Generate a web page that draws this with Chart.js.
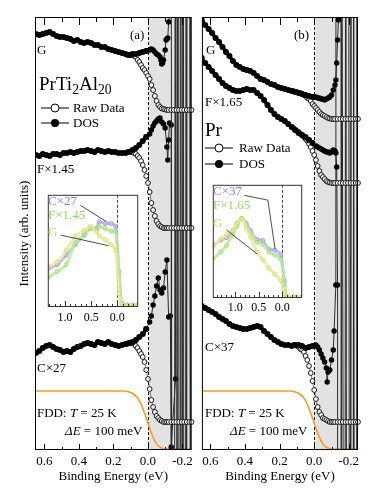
<!DOCTYPE html>
<html><head><meta charset="utf-8">
<script src="https://cdn.jsdelivr.net/npm/chart.js@4.4.1/dist/chart.umd.min.js"></script>
<style>
html,body{margin:0;padding:0;background:#fff;}
#fig{position:relative;width:374px;height:498px;overflow:hidden;font-family:'Liberation Serif','Times New Roman',serif;color:#000;}
canvas{position:absolute;}
.t{position:absolute;white-space:nowrap;line-height:1.2;font-size:13px;}
.big{font-size:19px;}
.big sub{font-size:0.72em;vertical-align:-0.28em;line-height:0;}
.lg{position:absolute;}
</style></head><body>
<div id="fig">
<canvas id="cA" width="197" height="498" style="left:0;top:0;width:197px;height:498px"></canvas>
<canvas id="cB" width="177" height="498" style="left:197px;top:0;width:177px;height:498px"></canvas>
<canvas id="iA" width="100" height="139" style="left:43px;top:190px;width:100px;height:139px"></canvas>
<canvas id="iB" width="99" height="140" style="left:208px;top:180px;width:99px;height:140px"></canvas>

<div class="t" style="left:130px;top:27px">(a)</div>
<div class="t" style="left:37px;top:42px">G</div>
<div class="t big" style="left:39px;top:73px">PrTi<sub>2</sub>Al<sub>20</sub></div>
<svg class="lg" style="left:41px;top:102px" width="28" height="12"><line x1="0" y1="6" x2="28" y2="6" stroke="#000" stroke-width="1"/><circle cx="14" cy="6" r="4" fill="#fff" stroke="#000" stroke-width="1"/></svg>
<div class="t" style="left:73px;top:100px">Raw Data</div>
<svg class="lg" style="left:41px;top:117px" width="28" height="12"><line x1="0" y1="6" x2="28" y2="6" stroke="#000" stroke-width="1"/><circle cx="14" cy="6" r="4" fill="#000"/></svg>
<div class="t" style="left:73px;top:115px">DOS</div>
<div class="t" style="left:37px;top:161px">F×1.45</div>
<div class="t" style="left:37px;top:360px">C×27</div>
<div class="t" style="left:37px;top:405px">FDD: <i>T</i> = 25 K</div>
<div class="t" style="left:65px;top:423px"><i>ΔE</i> = 100 meV</div>

<div class="t" style="left:294px;top:27px">(b)</div>
<div class="t" style="left:206px;top:42px">G</div>
<div class="t" style="left:205px;top:94px">F×1.65</div>
<div class="t big" style="left:205px;top:119px">Pr</div>
<svg class="lg" style="left:205px;top:142px" width="28" height="12"><line x1="0" y1="6" x2="28" y2="6" stroke="#000" stroke-width="1"/><circle cx="14" cy="6" r="4" fill="#fff" stroke="#000" stroke-width="1"/></svg>
<div class="t" style="left:239px;top:140px">Raw Data</div>
<svg class="lg" style="left:205px;top:158px" width="28" height="12"><line x1="0" y1="6" x2="28" y2="6" stroke="#000" stroke-width="1"/><circle cx="14" cy="6" r="4" fill="#000"/></svg>
<div class="t" style="left:239px;top:156px">DOS</div>
<div class="t" style="left:205px;top:339px">C×37</div>
<div class="t" style="left:205px;top:405px">FDD: <i>T</i> = 25 K</div>
<div class="t" style="left:230px;top:423px"><i>ΔE</i> = 100 meV</div>

<div class="t" style="left:48px;top:193px;color:#8a7cf0">C×27</div>
<div class="t" style="left:48px;top:207px;color:#8cdc55">F×1.45</div>
<div class="t" style="left:48px;top:224px;color:#d4d44a">G</div>
<div class="t" style="left:213px;top:183px;color:#8a7cf0">C×37</div>
<div class="t" style="left:213px;top:197px;color:#8cdc55">F×1.65</div>
<div class="t" style="left:213px;top:215px;color:#d4d44a">G</div>
</div>
<script>
// ---------- data (binding energy in eV, intensity in arb. units) ----------
const xTickValues = [0.6, 0.4, 0.2, 0.0, -0.2];
const xMinorTicks = [0.6, 0.5, 0.4, 0.3, 0.2, 0.1, 0.0, -0.1, -0.2];
const insetTickValues = [1.0, 0.5, 0.0];
const insetMinorA = [1.3,1.2,1.1,1.0,0.9,0.8,0.7,0.6,0.5,0.4,0.3,0.2,0.1,0.0,-0.1,-0.2,-0.3];
const insetMinorB = [1.4,1.3,1.2,1.1,1.0,0.9,0.8,0.7,0.6,0.5,0.4,0.3,0.2,0.1,0.0,-0.1,-0.2,-0.3,-0.4];

const energyGrid = [0.65,0.63,0.61,0.59,0.57,0.55,0.53,0.51,0.49,0.47,0.45,0.43,0.41,0.39,0.37,0.35,0.33,0.31,0.29,0.27,0.25,0.23,0.21,0.19,0.17,0.15,0.13,0.11,0.09,0.07,0.05,0.03,0.01];
const rawEnergy = [0.12,0.11,0.10,0.09,0.08,0.07,0.06,0.05,0.04,0.03,0.02,0.01,0.0,-0.01,-0.02,-0.03,-0.04,-0.05,-0.06,-0.07,-0.08,-0.09,-0.10,-0.11,-0.12,-0.135,-0.15,-0.165,-0.18,-0.195,-0.21,-0.225,-0.24,-0.253];

// Panel (a) PrTi2Al20
const dosA_G = [416,415,416,417,418,416,414,413,413,412,411,409,410,408,407,408,407,405,405,403,403,401,400,399,398,397,396,395,396,396,397,398,399];
const dosA_F = [295,294,296,295,294,296,296,295,297,297,298,297,298,299,299,300,299,298,300,299,298,299,298,298,297,297,297,298,300,302,305,309,313];
const dosA_C = [97,99,102,104,105,103,101,100,98,99,98,101,103,104,106,107,106,105,108,107,106,108,106,105,104,105,106,107,108,110,113,116,121];
const tailA_G_E = [0.01,-0.01,-0.02,-0.03,-0.04,-0.05,-0.06,-0.07,-0.075,-0.08,-0.085,-0.09,-0.10,-0.105,-0.11,-0.115,-0.12,-0.122,-0.154,-0.18,-0.204,-0.234,-0.26];
const tailA_G = [399,400,401,400,398,396,395,393,390,386,387,390,400,410,411,412,428,3000,-3000,3000,-3000,3000,-3000];
const tailA_F_E = [0.01,-0.01,-0.02,-0.03,-0.04,-0.05,-0.06,-0.07,-0.08,-0.09,-0.10,-0.11,-0.115,-0.12,-0.125,-0.135,-0.14,-0.17,-0.19,-0.21,-0.238,-0.26];
const tailA_F = [313,316,320,324,327,329,331,332,328,326,322,303,290,310,327,325,-3000,3000,-3000,3000,-3000,3000];
const tailA_C_E = [0.01,-0.01,-0.02,-0.03,-0.04,-0.05,-0.06,-0.07,-0.08,-0.09,-0.10,-0.11,-0.12,-0.13,-0.135,-0.16,-0.165,-0.18,-0.2,-0.215,-0.235,-0.255];
const tailA_C = [121,128,134,145,154,164,172,160,157,162,178,190,133,134,3,71,3000,-3000,3000,-3000,3000,-3000];
const rawA_G = [395,395,395,395,394,393,390,388,385,382,380,377,374,371,365,360,354,349,345,343,341.5,341,340.5,340,340,340,340,340,340,340,340,340,340,340];
const rawA_F = [298,298,298,298,297,296,294,292,289,285,280,274,267,258,247,240,234,229,226,224,223,222,222,222,222,222,222,222,222,222,222,222,222,222];
const rawA_C = [106,107,107,107,106,104,102,99,96,93,88,80,71,61,50,43,38,34,32,30,29,28,28,28,28,28,28,28,28,28,28,28,28,28];

// Panel (b) Pr
const dosB_G = [430,425,421,417,412,408,403,398,394,389,385,383,381,380,379,377,374,371,370,368,366,365,363,362,361,360,359,358,357,356,355,354,353];
const dosB_F = [392,387,383,379,375,371,367,364,362,360,359,359,360,361,360,360,357,354,350,345,340,336,333,331,329,326,323,320,317,315,313,310,307];
const dosB_C = [144,142,140,138,136,133,131,129,126,124,123,122,121,121,122,123,124,123,119,116,113,110,108,106,105,105,104,105,105,104,102,103,104];
const tailB_G_E = [0.01,-0.01,-0.02,-0.03,-0.04,-0.05,-0.06,-0.07,-0.08,-0.09,-0.10,-0.11,-0.12,-0.125,-0.13,-0.135,-0.14,-0.145,-0.168,-0.19,-0.214,-0.238,-0.26];
const tailB_G = [353,353,352,352,351,351,350,351,352,353,355,360,365,370,387,410,430,3000,-3000,3000,-3000,3000,-3000];
const tailB_F_E = [0.01,-0.01,-0.02,-0.03,-0.04,-0.05,-0.06,-0.07,-0.08,-0.09,-0.10,-0.11,-0.12,-0.125,-0.13,-0.135,-0.14,-0.172,-0.2,-0.22,-0.24,-0.26];
const tailB_F = [307,304,303,302,301,300,299,298,298,297,298,300,299,297,283,165,-3000,3000,-3000,3000,-3000,3000];
const tailB_C_E = [0.01,-0.01,-0.02,-0.03,-0.04,-0.05,-0.06,-0.07,-0.075,-0.08,-0.09,-0.10,-0.11,-0.115,-0.125,-0.13,-0.204,-0.22,-0.236,-0.256];
const tailB_C = [104,105,103,100,96,92,88,82,68,78,80,90,100,119,165,3000,-3000,3000,-3000,3000];
const rawB_G = [359,358,358,357,357,356,355,354,352,351,349,346,344,342,340,338,336,335,334,333,332,331.5,331,331,331,331,331,331,331,331,331,331,331,331];
const rawB_F = [322,320,319,318,316,315,313,311,309,306,303,299,295,290,284,279,275,273,271,269,268,267.5,267,267,267,267,267,267,267,267,267,267,267,267];
const rawB_C = [105,105,104,103,101,100,98,94,90,84,77,69,60,51,43,38,35,32,31,30,29,28,28,28,28,28,28,28,28,28,28,28,28,28];

// Fermi-Dirac distribution (T = 25 K, ΔE = 100 meV), same scale in both panels
const fddEnergy = [0.66,0.14,0.12,0.10,0.08,0.06,0.04,0.02,0.0,-0.02,-0.04,-0.06,-0.08,-0.10,-0.12,-0.26];
const fddLevel = [59,59,58.5,57.5,55.5,52,46,37,27,17,9,4,2,1,1,1];

// Insets (raw spectra, normalized)
const insetA_E = [1.32,1.15,0.98,0.805,0.633,0.517,0.40,0.345,0.23,0.115,0.03,-0.03,-0.086,-0.2,-0.3,-0.4];
const insetA_G = [42,47,59,74,80,84,79,74,70,65,59,14,1,1,1,1];
const insetA_F = [31,37,44,67,75,82,80,84,82,79,79,37,4,2,2,2];
const insetA_C = [40,44,54,65,75,82,82,89,87,87,84,37,4,2,2,2];
const insetB_E = [1.475,1.313,1.187,1.058,0.962,0.865,0.769,0.673,0.544,0.417,0.288,0.16,0.033,-0.044,-0.096,-0.25,-0.42];
const insetB_G = [53,61,66,71,78,83,73,63,48,40,31,25,18,5,0,1,1];
const insetB_F = [41,48,55,66,75,83,76,68,58,56,48,45,40,15,1,1,1];
const insetB_C = [55,60,63,70,78,83,78,70,61,60,51,50,45,18,1,1,1];
const leaderA_C_E = [0.707,0.207], leaderA_C = [106,89];
const leaderA_G_E = [1.086,0.172], leaderA_G = [75,64];
const leaderB_C_E = [0.808,0.308,0.154], leaderB_C = [107,102,51];
const leaderB_G_E = [1.19,0.538], leaderB_G = [71,46];

// ---------- drawing ----------
const FONT = "'Liberation Serif','Times New Roman',serif";
Chart.defaults.font.family = FONT;
Chart.defaults.color = '#000';

const pts = (E, V) => E.map((e, i) => ({x: e, y: V[i]}));
const fmt = v => Number(v).toFixed(1);

const framePlugin = {
  id: 'frame',
  beforeDraw(chart, args, o) {
    if (!o.white) return;
    const a = chart.chartArea, c = chart.ctx;
    c.save(); c.fillStyle = '#fff'; c.fillRect(a.left, a.top, a.right - a.left, a.bottom - a.top); c.restore();
  },
  beforeDatasetsDraw(chart, args, o) {
    const {ctx: c, chartArea: a, scales: {x}} = chart;
    const x0 = x.getPixelForValue(0);
    c.save();
    if (o.shade) { c.fillStyle = o.shade; c.fillRect(x0 + 1, a.top, a.right - x0 - 1, a.bottom - a.top); }
    c.strokeStyle = o.dashColor || '#000'; c.lineWidth = 1; c.setLineDash(o.dash || [3, 2]);
    const xp = Math.round(x0) + 0.5;
    c.beginPath(); c.moveTo(xp, a.top); c.lineTo(xp, a.bottom); c.stroke();
    c.restore();
  },
  afterDatasetsDraw(chart, args, o) {
    const {ctx: c, chartArea: a, scales: {x}} = chart;
    c.save();
    c.strokeStyle = o.frameColor || '#000'; c.lineWidth = 1;
    c.strokeRect(a.left + 0.5, a.top + 0.5, a.right - a.left - 1, a.bottom - a.top - 1);
    c.beginPath();
    for (const t of o.ticks) {
      const px = Math.round(x.getPixelForValue(t)) + 0.5;
      const major = o.major.some(m => Math.abs(m - t) < 1e-6);
      const lb = major ? o.botMajor : o.botMinor;
      c.moveTo(px, a.bottom); c.lineTo(px, a.bottom - lb);
      if (o.topMajor) { const lt = major ? o.topMajor : o.topMinor; c.moveTo(px, a.top); c.lineTo(px, a.top + lt); }
    }
    c.stroke(); c.restore();
  }
};

function dosMain(E, V) { return {data: pts(E, V), borderColor: '#000', borderWidth: 3.6, pointRadius: 3, pointBackgroundColor: '#000', pointBorderColor: '#000', pointBorderWidth: 0, order: 0}; }
function dosTail(E, V) { return {data: pts(E, V), borderColor: '#2a2a2a', borderWidth: 1, pointRadius: 2.7, pointBackgroundColor: '#000', pointBorderColor: '#000', pointBorderWidth: 0, order: 2}; }
function rawSet(V) { return {data: pts(rawEnergy, V), borderColor: '#000', borderWidth: 0.5, pointRadius: 2.4, pointBackgroundColor: '#fff', pointBorderColor: '#000', pointBorderWidth: 0.9, order: 1, clip: 5}; }
function fddSet() { return {data: pts(fddEnergy, fddLevel), borderColor: '#f5a01a', borderWidth: 1.6, pointRadius: 0, cubicInterpolationMode: 'monotone', order: 3}; }

function mainChart(id, xmax, pad, withYTitle, sets) {
  return new Chart(document.getElementById(id), {
    type: 'line',
    data: {datasets: sets},
    options: {
      responsive: false, animation: false, devicePixelRatio: 1, events: [],
      layout: {padding: pad},
      plugins: {legend: {display: false}, tooltip: {enabled: false},
        frame: {shade: '#e2e2e2', dash: [3, 2], ticks: xMinorTicks, major: xTickValues, botMajor: 6, botMinor: 3, topMajor: 8, topMinor: 5}},
      scales: {
        x: {type: 'linear', min: -0.253, max: xmax, reverse: true,
          grid: {display: false, drawTicks: false}, border: {display: false},
          afterBuildTicks: s => { s.ticks = xTickValues.map(v => ({value: v})); },
          afterFit: s => { s.height = 48; },
          ticks: {font: {family: FONT, size: 13}, color: '#000', padding: 4, maxRotation: 0, autoSkip: false, callback: v => fmt(v)},
          title: {display: true, text: 'Binding Energy (eV)', font: {family: FONT, size: 13}, color: '#000', padding: {top: 0, bottom: 14}}},
        y: withYTitle ? {min: 0, max: 433, grid: {display: false, drawTicks: false}, border: {display: false}, ticks: {display: false},
          afterFit: s => { s.width = 35; },
          title: {display: true, text: 'Intensity (arb. units)', font: {family: FONT, size: 13}, color: '#000', padding: {top: 17, bottom: 0}}}
          : {display: false, min: 0, max: 433}
      }
    },
    plugins: [framePlugin]
  });
}

mainChart('cA', 0.655, {left: 0, right: 4, top: 17, bottom: 0}, true, [
  dosMain(energyGrid, dosA_G), dosMain(energyGrid, dosA_F), dosMain(energyGrid, dosA_C),
  rawSet(rawA_G), rawSet(rawA_F), rawSet(rawA_C),
  dosTail(tailA_G_E, tailA_G), dosTail(tailA_F_E, tailA_F), dosTail(tailA_C_E, tailA_C),
  fddSet()
]);
mainChart('cB', 0.649, {left: 4, right: 16, top: 17, bottom: 0}, false, [
  dosMain(energyGrid, dosB_G), dosMain(energyGrid, dosB_F), dosMain(energyGrid, dosB_C),
  rawSet(rawB_G), rawSet(rawB_F), rawSet(rawB_C),
  dosTail(tailB_G_E, tailB_G), dosTail(tailB_F_E, tailB_F), dosTail(tailB_C_E, tailB_C),
  fddSet()
]);

function insetLine(E, V, line, pt) {
  return {data: pts(E, V), borderColor: line, borderWidth: 3, tension: 0.25, pointRadius: 2, pointBorderColor: pt, pointBorderWidth: 0.8, pointBackgroundColor: 'rgba(255,255,255,0)'};
}
function leader(E, V) { return {data: pts(E, V), borderColor: '#222', borderWidth: 0.8, pointRadius: 0}; }

function insetChart(id, xmin, xmax, ymax, minor, labelPad, sets) {
  return new Chart(document.getElementById(id), {
    type: 'line',
    data: {datasets: sets},
    options: {
      responsive: false, animation: false, devicePixelRatio: 1, events: [],
      layout: {padding: 0},
      plugins: {legend: {display: false}, tooltip: {enabled: false},
        frame: {white: true, shade: null, dash: [3, 2], dashColor: '#444', frameColor: '#333', ticks: minor, major: insetTickValues, botMajor: 6, botMinor: 3}},
      scales: {
        x: {type: 'linear', min: xmin, max: xmax, reverse: true,
          grid: {display: false, drawTicks: false}, border: {display: false},
          afterBuildTicks: s => { s.ticks = insetTickValues.map(v => ({value: v})); },
          afterFit: s => { s.height = 22; },
          ticks: {font: {family: FONT, size: 12}, color: '#000', padding: labelPad, maxRotation: 0, autoSkip: false, callback: v => fmt(v)}},
        y: {display: false, min: 0, max: ymax}
      }
    },
    plugins: [framePlugin]
  });
}

insetChart('iA', -0.40, 1.33, 117, insetMinorA, 4, [
  leader(leaderA_C_E, leaderA_C), leader(leaderA_G_E, leaderA_G),
  insetLine(insetA_E, insetA_G, 'rgba(234,234,150,0.85)', '#d8d860'),
  insetLine(insetA_E, insetA_F, 'rgba(182,236,146,0.85)', '#96dc6a'),
  insetLine(insetA_E, insetA_C, 'rgba(192,182,245,0.85)', '#9a8cf0')
]);
insetChart('iB', -0.423, 1.48, 118, insetMinorB, 3, [
  leader(leaderB_C_E, leaderB_C), leader(leaderB_G_E, leaderB_G),
  insetLine(insetB_E, insetB_G, 'rgba(234,234,150,0.85)', '#d8d860'),
  insetLine(insetB_E, insetB_F, 'rgba(182,236,146,0.85)', '#96dc6a'),
  insetLine(insetB_E, insetB_C, 'rgba(192,182,245,0.85)', '#9a8cf0')
]);
</script>
</body></html>
